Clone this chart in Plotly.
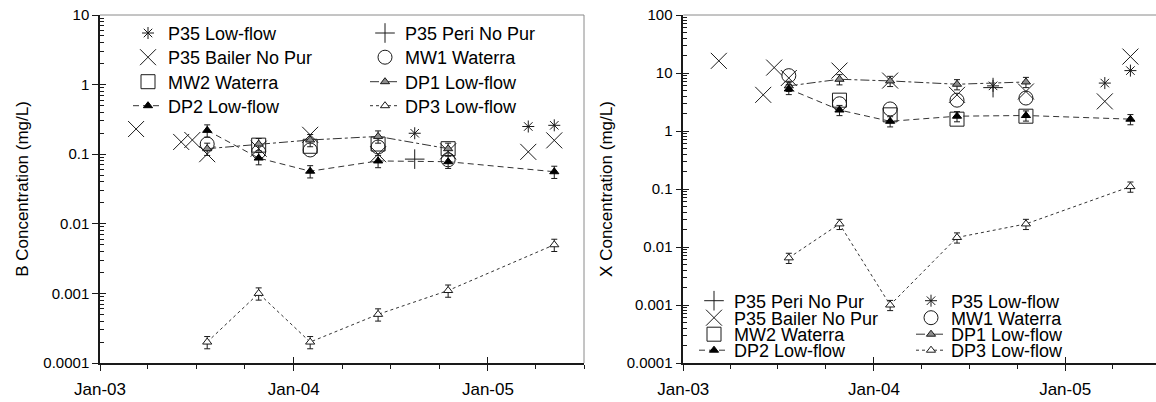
import plotly.graph_objects as go

# ---------------- data ----------------
sample_dates = ["2003-07-22", "2003-10-27", "2004-02-01", "2004-06-08", "2004-10-18", "2005-05-06"]

bailer_dates = ["2003-03-10", "2003-06-03", "2003-06-24", "2003-07-22", "2003-10-27",
                "2004-02-01", "2004-06-08", "2004-10-18", "2005-03-18", "2005-05-06"]
bailer_B = [0.23, 0.15, 0.16, 0.10, 0.12, 0.19, 0.10, 0.11, 0.108, 0.158]
bailer_X = [16.2, 4.2, 12.4, 8.2, 11.0, 7.4, 4.2, 4.8, 3.24, 19.2]

lowflow_dates = ["2004-08-16", "2005-03-18", "2005-05-06"]
lowflow_B = [0.20, 0.25, 0.26]
lowflow_X = [6.0, 6.7, 11.0]

peri_dates = ["2004-08-16"]
peri_B = [0.085]
peri_X = [5.6]

mw1_dates = sample_dates[:5]
mw1_B = [0.14, 0.108, 0.115, 0.127, 0.083]
mw1_X = [9.0, 2.95, 2.4, 3.4, 3.7]

mw2_dates = sample_dates[1:5]
mw2_B = [0.135, 0.13, 0.14, 0.12]
mw2_X = [3.4, 1.9, 1.6, 1.8]

dp1_dates = sample_dates[:5]
dp1_B = [0.12, 0.14, 0.16, 0.18, 0.12]
dp1_X = [6.0, 7.8, 7.3, 6.4, 7.0]

dp2_dates = sample_dates
dp2_B = [0.22, 0.088, 0.057, 0.080, 0.078, 0.056]
dp2_X = [5.3, 2.3, 1.47, 1.8, 1.85, 1.6]

dp3_dates = sample_dates
dp3_B = [0.0002, 0.001, 0.0002, 0.0005, 0.0011, 0.005]
dp3_X = [0.0065, 0.025, 0.001, 0.0146, 0.025, 0.11]

y_left_ticks = [0.0001, 0.001, 0.01, 0.1, 1, 10]
y_left_text = ["0.0001", "0.001", "0.01", "0.1", "1", "10"]
y_right_ticks = [0.0001, 0.001, 0.01, 0.1, 1, 10, 100]
y_right_text = ["0.0001", "0.001", "0.01", "0.1", "1", "10", "100"]

# ---------------- style ----------------
FONT = "Liberation Sans, Arial, sans-serif"
INK = "#1a1a1a"
LINE = "#333333"
ERR = dict(type="percent", value=20, color=INK, thickness=1, width=3)

styles = {
    "P35 Low-flow": dict(mode="markers", marker=dict(symbol="asterisk-open", size=10, color=INK, line=dict(width=1, color=INK))),
    "P35 Peri No Pur": dict(mode="markers", marker=dict(symbol="cross-thin-open", size=14, color=INK, line=dict(width=1, color=INK))),
    "P35 Bailer No Pur": dict(mode="markers", marker=dict(symbol="x-thin-open", size=16, color=INK, line=dict(width=1, color=INK))),
    "MW1 Waterra": dict(mode="markers", marker=dict(symbol="circle-open", size=14, color=INK, line=dict(width=1, color=INK))),
    "MW2 Waterra": dict(mode="markers", marker=dict(symbol="square-open", size=14, color=INK, line=dict(width=1, color=INK))),
    "DP1 Low-flow": dict(mode="lines+markers", line=dict(color=LINE, width=1, dash="dashdot"),
                         marker=dict(symbol="triangle-up", size=8, color="#8c8c8c", line=dict(width=1, color=INK)),
                         error_y=ERR),
    "DP2 Low-flow": dict(mode="lines+markers", line=dict(color=LINE, width=1, dash="6px,4px"),
                         marker=dict(symbol="triangle-up", size=8, color="black", line=dict(width=1, color="black")),
                         error_y=ERR),
    "DP3 Low-flow": dict(mode="lines+markers", line=dict(color=LINE, width=1, dash="dot"),
                         marker=dict(symbol="triangle-up", size=8, color="white", line=dict(width=1, color=INK)),
                         error_y=ERR),
}

left_series = [
    ("P35 Low-flow", lowflow_dates, lowflow_B),
    ("P35 Peri No Pur", peri_dates, peri_B),
    ("P35 Bailer No Pur", bailer_dates, bailer_B),
    ("MW1 Waterra", mw1_dates, mw1_B),
    ("MW2 Waterra", mw2_dates, mw2_B),
    ("DP1 Low-flow", dp1_dates, dp1_B),
    ("DP2 Low-flow", dp2_dates, dp2_B),
    ("DP3 Low-flow", dp3_dates, dp3_B),
]
right_series = [
    ("P35 Peri No Pur", peri_dates, peri_X),
    ("P35 Low-flow", lowflow_dates, lowflow_X),
    ("P35 Bailer No Pur", bailer_dates, bailer_X),
    ("MW1 Waterra", mw1_dates, mw1_X),
    ("MW2 Waterra", mw2_dates, mw2_X),
    ("DP1 Low-flow", dp1_dates, dp1_X),
    ("DP2 Low-flow", dp2_dates, dp2_X),
    ("DP3 Low-flow", dp3_dates, dp3_X),
]

fig = go.Figure()

for i, (name, xs, ys) in enumerate(left_series):
    fig.add_trace(go.Scatter(x=xs, y=ys, name=name, xaxis="x", yaxis="y",
                             legend="legend" if i < 2 else f"legend{i // 2 + 1}",
                             **styles[name]))
for i, (name, xs, ys) in enumerate(right_series):
    fig.add_trace(go.Scatter(x=xs, y=ys, name=name, xaxis="x2", yaxis="y2",
                             legend=f"legend{i // 2 + 5}",
                             **styles[name]))

# empty helper traces so the inner-tick overlay axes get drawn
for xa, ya in [("x3", "y"), ("x", "y3"), ("x4", "y2"), ("x2", "y4")]:
    fig.add_trace(go.Scatter(x=[], y=[], xaxis=xa, yaxis=ya, showlegend=False, hoverinfo="skip"))

W, H = 1156, 402
ML, MR, MT, MB = 100, 0, 15, 39
PW = W - ML - MR
PH = H - MT - MB

def px_x(p):
    return (p - ML) / PW

def px_y(p):
    return (H - MB - p) / PH

left_dom = [0, px_x(584)]
right_dom = [px_x(683.3), 1]
left_xrange = ["2003-01-01", "2005-07-01"]
right_xrange = ["2003-01-01", "2005-06-24"]

xcommon = dict(type="date", dtick="M12", tick0="2003-01-01", tickformat="%b-%y",
               ticks="outside", ticklen=6, tickwidth=1, tickcolor=INK,
               showline=True, linecolor=INK, linewidth=1.5, showgrid=False, zeroline=False,
               tickfont=dict(family=FONT, size=17, color="black"), ticklabelstandoff=4,
               minor=dict(dtick="M3", tick0="2003-01-01", ticks="outside", ticklen=4, tickcolor=INK, showgrid=False),
               automargin=False)

xinner = dict(type="date", dtick="M12", tick0="2003-01-01", ticks="inside", ticklen=6, tickwidth=1,
              tickcolor=INK, showline=False, showgrid=False, zeroline=False, showticklabels=False,
              automargin=False)

def minor_vals(lo, hi):
    return [k * 10.0 ** e for e in range(lo, hi) for k in range(2, 10)]

ycommon = dict(type="log", ticks="outside", ticklen=6, tickwidth=1, tickcolor=INK,
               showline=True, linecolor=INK, linewidth=1.5, showgrid=False, zeroline=False,
               tickfont=dict(family=FONT, size=15, color="black"),
               automargin=False)

yinner = dict(type="log", ticks="inside", ticklen=6, tickwidth=1, tickcolor=INK, showline=False,
              showgrid=False, zeroline=False, showticklabels=False, automargin=False, tickmode="array")

fig.update_layout(
    xaxis=dict(domain=left_dom, anchor="y", range=left_xrange, **xcommon),
    yaxis=dict(domain=[0, 1], anchor="x", range=[-4, 1], tickmode="array",
               tickvals=y_left_ticks, ticktext=y_left_text,
               minor=dict(tickmode="array", tickvals=minor_vals(-4, 1), ticks="inside", ticklen=4, tickcolor=INK),
               title=dict(text="B Concentration (mg/L)", font=dict(family=FONT, size=17, color="black"), standoff=10),
               **ycommon),
    xaxis2=dict(domain=right_dom, anchor="y2", range=right_xrange, **xcommon),
    yaxis2=dict(domain=[0, 1], anchor="x2", range=[-4, 2], tickmode="array",
                tickvals=y_right_ticks, ticktext=y_right_text,
                minor=dict(tickmode="array", tickvals=minor_vals(-4, 2), ticks="inside", ticklen=4, tickcolor=INK),
                title=dict(text="X Concentration (mg/L)", font=dict(family=FONT, size=17, color="black"), standoff=10),
                **ycommon),
    xaxis3=dict(overlaying="x", anchor="y", range=left_xrange, **xinner),
    yaxis3=dict(overlaying="y", anchor="x", range=[-4, 1], tickvals=y_left_ticks, **yinner),
    xaxis4=dict(overlaying="x2", anchor="y2", range=right_xrange, **xinner),
    yaxis4=dict(overlaying="y2", anchor="x2", range=[-4, 2], tickvals=y_right_ticks, **yinner),
    width=W, height=H,
    margin=dict(l=ML, r=MR, t=MT, b=MB, autoexpand=False),
    paper_bgcolor="white", plot_bgcolor="white",
    font=dict(family=FONT, color="black"),
    showlegend=True,
)

# frame lines (top / right) in light grey
fig.add_shape(type="line", xref="x domain", yref="y domain", x0=0, x1=1, y0=1, y1=1,
              line=dict(color="#8a8a8a", width=1), layer="below")
fig.add_shape(type="line", xref="x domain", yref="y domain", x0=1, x1=1, y0=0, y1=1,
              line=dict(color="#8a8a8a", width=1), layer="below")
fig.add_shape(type="line", xref="x2 domain", yref="y2 domain", x0=0, x1=1, y0=1, y1=1,
              line=dict(color="#8a8a8a", width=1), layer="below")

# legends: one horizontal legend per row
left_rows_y = [33.3, 57.5, 82.0, 106.0]
right_rows_y = [301.0, 318.0, 334.5, 350.5]
leg_common = dict(orientation="h", xref="paper", yref="paper", xanchor="left", yanchor="middle",
                  bgcolor="rgba(0,0,0,0)", borderwidth=0, entrywidthmode="pixels",
                  font=dict(family=FONT, size=18, color="black"), traceorder="normal",
                  itemclick=False, itemdoubleclick=False)
legs = {}
for r, yy in enumerate(left_rows_y):
    key = "legend" if r == 0 else f"legend{r + 1}"
    legs[key] = dict(x=px_x(128), y=px_y(yy), entrywidth=192, **leg_common)
for r, yy in enumerate(right_rows_y):
    legs[f"legend{r + 5}"] = dict(x=px_x(694), y=px_y(yy), entrywidth=172, **leg_common)
fig.update_layout(**legs)

fig.write_html("out.html")
